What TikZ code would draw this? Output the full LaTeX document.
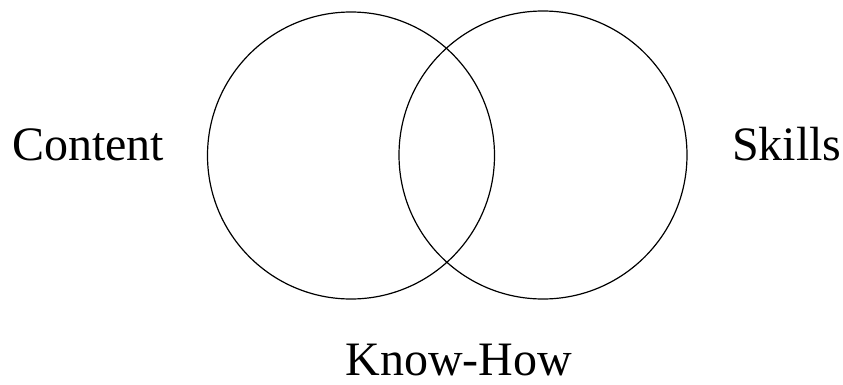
\documentclass[tikz,border=0pt]{standalone}
\usepackage{fontspec}
\setmainfont{Liberation Serif}
\begin{document}
\begin{tikzpicture}[x=1pt,y=1pt,
  ring/.style={draw=black,line width=1.2pt,circle,inner sep=0pt},
  lbl/.style={font=\fontsize{48}{56}\selectfont,inner sep=0pt}]
\useasboundingbox (0,0) rectangle (843,384);
\node[ring,minimum size=287pt] (L) at (351,228.5) {};
\node[ring,minimum size=288pt] (R) at (543,229) {};
\node[lbl,anchor=base west] (content) at (12,224) {Content};
\node[lbl,anchor=base west] (skills) at (732,224) {Skills};
\node[lbl,anchor=base] (know) at (459,9) {Know-How};
\end{tikzpicture}
\end{document}
